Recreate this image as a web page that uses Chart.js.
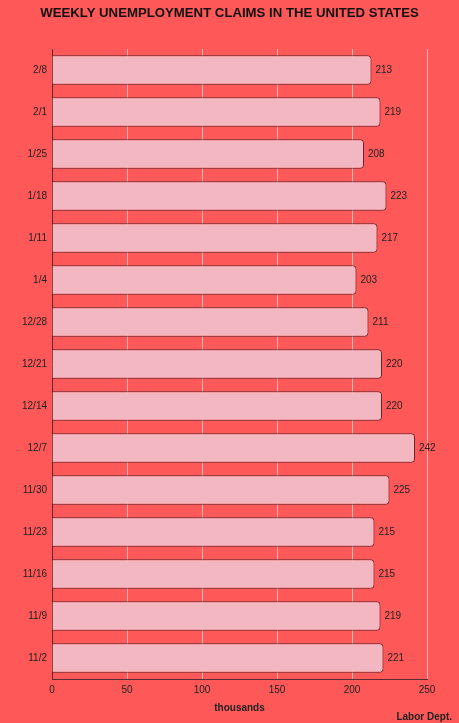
<!DOCTYPE html>
<html><head><meta charset="utf-8">
<script src="https://cdn.jsdelivr.net/npm/chart.js@4/dist/chart.umd.min.js"></script>
<style>html,body{margin:0;padding:0;background:#ff5858;}#wrap{width:459px;height:723px;}</style>
</head><body><div id="wrap"><canvas id="c" width="459" height="723"></canvas></div>
<script>
const categories = ['2/8','2/1','1/25','1/18','1/11','1/4','12/28','12/21','12/14','12/7','11/30','11/23','11/16','11/9','11/2'];
const claims = [213,219,208,223,217,203,211,220,220,242,225,215,215,219,221];
const xTicks = [0,50,100,150,200,250];
const titleText = 'WEEKLY UNEMPLOYMENT CLAIMS IN THE UNITED STATES';
const xTitle = 'thousands';
const sourceText = 'Labor Dept.';

const FONT = "'Liberation Sans', Arial, sans-serif";
const bg = {id:'bg', beforeDraw(c){const x=c.ctx;x.save();x.fillStyle='#ff5858';x.fillRect(0,0,c.width,c.height);x.restore();}};
const labels = {id:'labels', afterDatasetsDraw(c){
  const x=c.ctx; const meta=c.getDatasetMeta(0);
  x.save(); x.fillStyle='#222'; x.font='10px '+FONT; x.textBaseline='middle'; x.textAlign='left';
  meta.data.forEach((b,i)=>{x.fillText(String(claims[i]), b.x+4, b.y);});
  x.font='bold 10px '+FONT; x.textAlign='right'; x.textBaseline='alphabetic';
  x.fillText(sourceText, 452, 720);
  x.font='bold 13.2px '+FONT; x.textAlign='center'; x.textBaseline='middle'; x.fillStyle='#111';
  x.fillText(titleText, c.width/2, 13);
  x.restore();
}};
new Chart(document.getElementById('c'), {
  type:'bar',
  data:{labels:categories, datasets:[{data:claims, backgroundColor:'#f3b7c1', borderColor:'#5a2a2e', borderWidth:1, borderRadius:4, borderSkipped:'start', barPercentage:0.7, categoryPercentage:1}]},
  options:{
    indexAxis:'y', responsive:false, animation:false, devicePixelRatio:1,
    layout:{padding:{top:49,right:32,bottom:9,left:0}},
    plugins:{legend:{display:false}, tooltip:{enabled:false}, title:{display:false}},
    scales:{
      x:{min:0,max:250, afterBuildTicks:s=>{s.ticks=xTicks.map(v=>({value:v}));},
        grid:{color:'rgba(255,255,255,0.55)', drawTicks:false},
        border:{color:'#5a2a2e', width:1},
        ticks:{color:'#222', font:{family:FONT,size:10}, padding:5},
        title:{display:true, text:xTitle, color:'#222', font:{family:FONT,size:10,weight:'bold'}, padding:{top:1,bottom:0}}},
      y:{grid:{display:false, drawTicks:false}, border:{color:'#5a2a2e', width:1},
        ticks:{color:'#222', font:{family:FONT,size:10}, padding:5},
        afterFit:s=>{s.width=52;}}
    }
  },
  plugins:[bg, labels]
});
</script></body></html>
